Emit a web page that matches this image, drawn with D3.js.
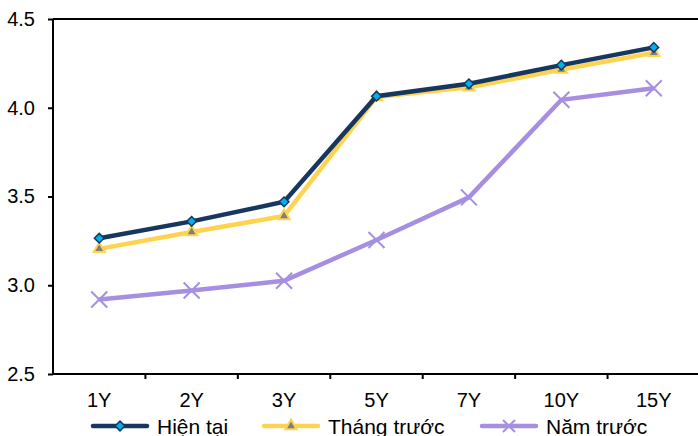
<!DOCTYPE html>
<html>
<head>
<meta charset="utf-8">
<script src="https://cdn.jsdelivr.net/npm/d3@7"></script>
<style>
  body { margin: 0; background: #fff; }
  text { font-family: "Liberation Sans", Arial, sans-serif; fill: #000; }
</style>
</head>
<body>
<script>
const tenors = ["1Y", "2Y", "3Y", "5Y", "7Y", "10Y", "15Y"];
const hienTai = [3.265, 3.36, 3.47, 4.065, 4.135, 4.24, 4.34];
const thangTruoc = [3.205, 3.30, 3.39, 4.06, 4.115, 4.215, 4.31];
const namTruoc = [2.92, 2.97, 3.025, 3.255, 3.495, 4.045, 4.11];
const yTicks = [2.5, 3.0, 3.5, 4.0, 4.5];

const series = [
  { name: "Hiện tại", values: hienTai, color: "#17375E", marker: "diamond" },
  { name: "Tháng trước", values: thangTruoc, color: "#FFD34F", marker: "triangle" },
  { name: "Năm trước", values: namTruoc, color: "#A68FE0", marker: "cross" }
];

const W = 698, H = 436;
const margin = { top: 19, right: -2, bottom: 62, left: 53 };
const width = W - margin.left - margin.right;
const height = H - margin.top - margin.bottom;

const svg = d3.select("body").append("svg")
  .attr("width", W)
  .attr("height", H);

const g = svg.append("g")
  .attr("transform", `translate(${margin.left},${margin.top})`);

const x = d3.scaleBand().domain(tenors).range([0, width]);
const y = d3.scaleLinear().domain([2.5, 4.5]).range([height, 0]);

// top frame line
g.append("line")
  .attr("x1", 0).attr("x2", width)
  .attr("y1", 0).attr("y2", 0)
  .attr("stroke", "#000").attr("stroke-width", 2);

// y axis
const yAxis = g.append("g")
  .call(d3.axisLeft(y).tickValues(yTicks).tickFormat(d3.format(".1f")).tickSize(5).tickPadding(13));
yAxis.select(".domain").attr("stroke-width", 2).attr("d", `M0,0V${height}`);
yAxis.selectAll(".tick line").attr("stroke-width", 2);
yAxis.selectAll("text").style("font-size", "20px");

// x axis with ticks at band boundaries
const xAxis = g.append("g")
  .attr("transform", `translate(0,${height})`)
  .call(d3.axisBottom(x).tickSize(0).tickPadding(19));
xAxis.select(".domain").attr("stroke-width", 2).attr("d", `M0,0H${width}`);
xAxis.selectAll("text").style("font-size", "20px");
g.append("g")
  .selectAll("line")
  .data(tenors.slice(1))
  .join("line")
  .attr("x1", d => x(d)).attr("x2", d => x(d))
  .attr("y1", height).attr("y2", height + 5)
  .attr("stroke", "#000").attr("stroke-width", 2);

const line = d3.line()
  .x((d, i) => x(tenors[i]) + x.bandwidth() / 2)
  .y(d => y(d));

function drawMarker(sel, s, small) {
  if (s.marker === "diamond") {
    sel.append("path")
      .attr("d", d3.symbol(d3.symbolDiamond2, 60)())
      .attr("fill", "#00B0F0").attr("stroke", s.color).attr("stroke-width", 1.5);
  } else if (s.marker === "triangle") {
    sel.append("path")
      .attr("d", d3.symbol(d3.symbolTriangle2, 90)())
      .attr("fill", "#7F7F7F").attr("stroke", s.color).attr("stroke-width", 2);
  } else {
    const r = small ? 6 : 8;
    sel.append("path")
      .attr("d", `M${-r},${-r}L${r},${r}M${-r},${r}L${r},${-r}`)
      .attr("stroke", s.color).attr("stroke-width", 2).attr("fill", "none");
  }
}

// draw in reverse order so Hiện tại is on top
[...series].reverse().forEach(s => {
  g.append("path")
    .datum(s.values)
    .attr("d", line)
    .attr("fill", "none")
    .attr("stroke", s.color)
    .attr("stroke-width", 4.5);
  s.values.forEach((v, i) => {
    const m = g.append("g")
      .attr("transform", `translate(${x(tenors[i]) + x.bandwidth() / 2},${y(v)})`);
    drawMarker(m, s, false);
  });
});

// legend
const legendX = [93, 264, 482];
series.forEach((s, i) => {
  const lg = svg.append("g").attr("transform", `translate(${legendX[i]},426)`);
  lg.append("line")
    .attr("x1", 0).attr("x2", 54).attr("y1", 0).attr("y2", 0)
    .attr("stroke", s.color).attr("stroke-width", 4.5).attr("stroke-linecap", "round");
  const m = lg.append("g").attr("transform", "translate(27,0)");
  drawMarker(m, s, true);
  lg.append("text")
    .attr("x", 64).attr("y", 7.5)
    .style("font-size", "21px")
    .text(s.name);
});
</script>
</body>
</html>
